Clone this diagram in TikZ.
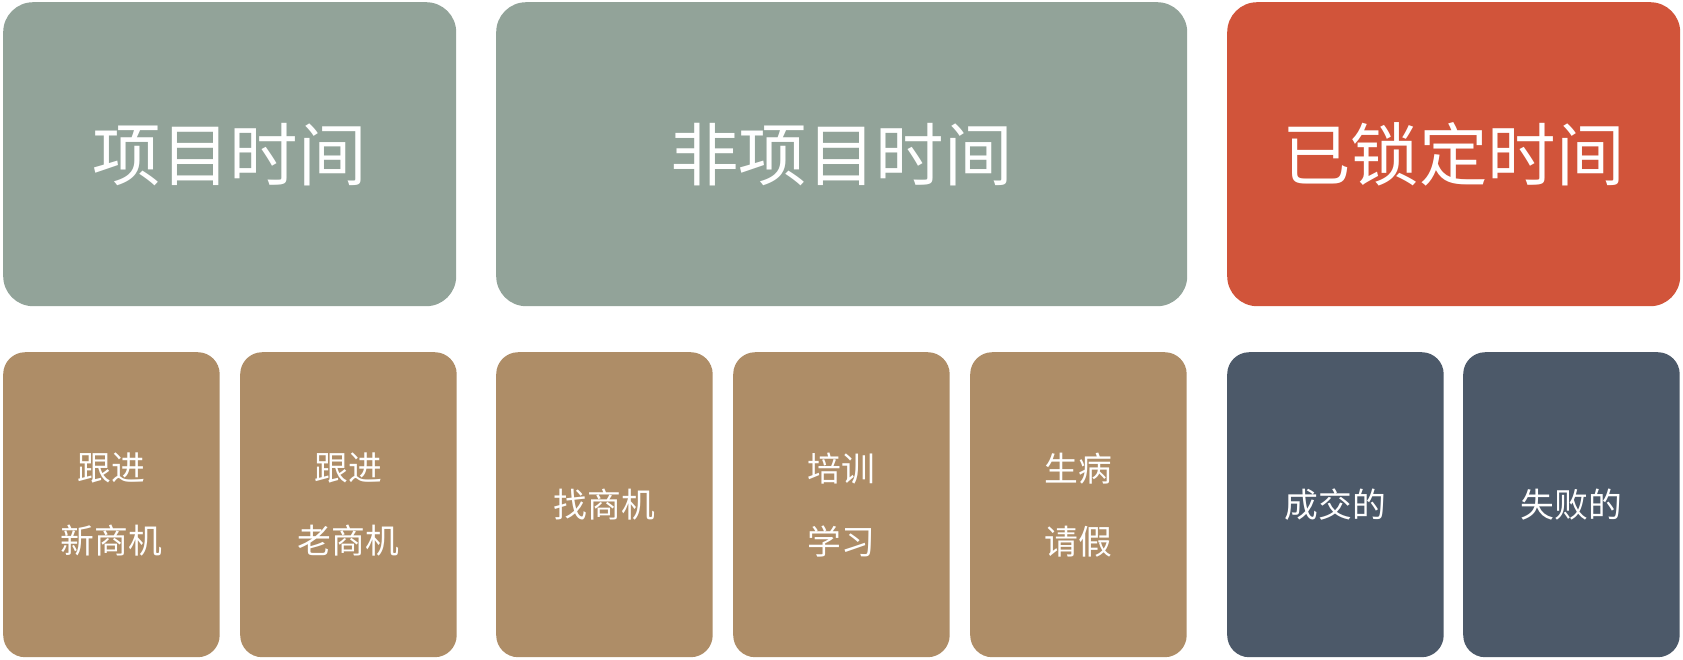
\documentclass[tikz,border=0pt]{standalone}
\usepackage{fontspec}
\newfontfamily\cjk{Noto Sans CJK SC}
\definecolor{sage}{HTML}{92A399}
\definecolor{brick}{HTML}{D1543A}
\definecolor{tan}{HTML}{AE8D67}
\definecolor{slate}{HTML}{4C5969}
\begin{document}
\begin{tikzpicture}[x=1pt,y=-1pt,
  bigbox/.style={anchor=north west,rounded corners=30pt,inner sep=0pt,minimum height=304pt,text=white,font=\cjk\fontsize{68.5}{80}\selectfont},
  smallbox/.style={anchor=north west,rounded corners=22pt,inner sep=0pt,minimum width=216.5pt,minimum height=305pt,text=white,align=center,font=\cjk\fontsize{33.8}{73}\selectfont}]
\useasboundingbox (0,0) rectangle (1683,659);
\node[bigbox,fill=sage,minimum width=453pt] (xm) at (3,2) {项目时间};
\node[bigbox,fill=sage,minimum width=691pt] (fxm) at (496,2) {非项目时间};
\node[bigbox,fill=brick,minimum width=453pt] (sd) at (1227,2) {已锁定时间};
\node[smallbox,fill=tan] (a) at (3,352) {跟进\\新商机};
\node[smallbox,fill=tan] (b) at (240,352) {跟进\\老商机};
\node[smallbox,fill=tan] (c) at (496,352) {找商机};
\node[smallbox,fill=tan] (d) at (733,352) {培训\\学习};
\node[smallbox,fill=tan] (e) at (970,352) {生病\\请假};
\node[smallbox,fill=slate] (f) at (1227,352) {成交的};
\node[smallbox,fill=slate] (g) at (1463,352) {失败的};
\end{tikzpicture}
\end{document}
